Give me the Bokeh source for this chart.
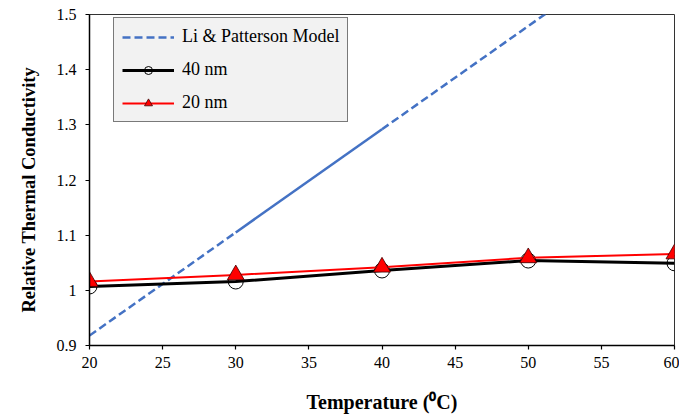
from bokeh.plotting import figure
from bokeh.models import Range1d, FixedTicker, Legend, LegendItem, Title
from bokeh.embed import file_html
from bokeh.resources import INLINE

# Data
temps = [20, 30, 40, 50, 60]
model = [0.918, 1.105, 1.292, 1.479, 1.666]
nm40 = [1.007, 1.016, 1.036, 1.054, 1.049]
nm20 = [1.016, 1.028, 1.042, 1.059, 1.066]
x_ticks = [20, 25, 30, 35, 40, 45, 50, 55, 60]
y_ticks = [0.9, 1.0, 1.1, 1.2, 1.3, 1.4, 1.5]
y_tick_labels = ["0.9", "1", "1.1", "1.2", "1.3", "1.4", "1.5"]

SERIF = "Liberation Serif"

p = figure(width=679, height=417, output_backend="svg", toolbar_location=None,
           x_range=Range1d(20, 60), y_range=Range1d(0.9, 1.5),
           min_border_left=89, min_border_right=5, min_border_top=14, min_border_bottom=72)
p.grid.visible = False
p.outline_line_color = "#333333"
p.outline_line_width = 1
p.background_fill_color = "white"
p.border_fill_color = "white"

for ax in (p.xaxis[0], p.yaxis[0]):
    ax.axis_line_color = "black"
    ax.axis_line_width = 1.5
    ax.major_tick_line_color = "black"
    ax.major_tick_line_width = 1.2
    ax.major_tick_in = 0
    ax.major_tick_out = 4
    ax.minor_tick_line_color = None
    ax.major_label_text_font = SERIF
    ax.major_label_text_font_size = "16px"
    ax.major_label_text_color = "black"
    ax.axis_label_text_font = SERIF
    ax.axis_label_text_font_style = "bold"
    ax.axis_label_text_font_size = "20px"
    ax.axis_label_text_color = "black"

p.xaxis.ticker = FixedTicker(ticks=x_ticks)
p.yaxis.ticker = FixedTicker(ticks=y_ticks)
p.yaxis.major_label_overrides = {t: l for t, l in zip(y_ticks, y_tick_labels)}
p.xaxis.axis_label = "Temperature (\u2070C)"
p.xaxis.major_label_standoff = 7
p.yaxis.major_label_standoff = 9
p.xaxis.axis_label_standoff = 20

# y-axis title placed like the original (slightly below the frame centre)
ytitle = Title(text="Relative Thermal Conductivity", align="left", offset=33,
               standoff=30, text_font=SERIF, text_font_style="bold",
               text_font_size="18.5px", text_color="black")
p.add_layout(ytitle, "left")

blue = "#4472C4"
# model line: dashed outside 30-40, solid between
r_m1 = p.line(temps[:2], model[:2], line_color=blue, line_width=2.5, line_dash="8 4")
r_m2 = p.line(temps[1:3], model[1:3], line_color=blue, line_width=2.5)
r_m3 = p.line(temps[2:], model[2:], line_color=blue, line_width=2.5, line_dash="8 4")

r40l = p.line(temps, nm40, line_color="black", line_width=3)
r40s = p.scatter(temps, nm40, marker="circle", size=15, fill_color=None,
                 line_color="black", line_width=1)
r20l = p.line(temps, nm20, line_color="red", line_width=2)
r20s = p.scatter(temps, nm20, marker="triangle", size=17, fill_color="red",
                 line_color="#400000", line_width=0.8)

legend = Legend(items=[
    LegendItem(label="Li & Patterson Model", renderers=[r_m1]),
    LegendItem(label="40 nm", renderers=[r40l, r40s]),
    LegendItem(label="20 nm", renderers=[r20l, r20s]),
], location=(24, 223))
legend.label_text_font = SERIF
legend.label_text_font_size = "18px"
legend.label_text_color = "black"
legend.glyph_width = 52
legend.glyph_height = 20
legend.label_height = 20
legend.spacing = 12
legend.padding = 8
legend.margin = 0
legend.label_standoff = 8
legend.border_line_color = "black"
legend.border_line_width = 1.5
legend.background_fill_color = "#f2f2f2"
legend.background_fill_alpha = 1
p.add_layout(legend, "center")

open("out.html", "w").write(file_html(p, INLINE))
